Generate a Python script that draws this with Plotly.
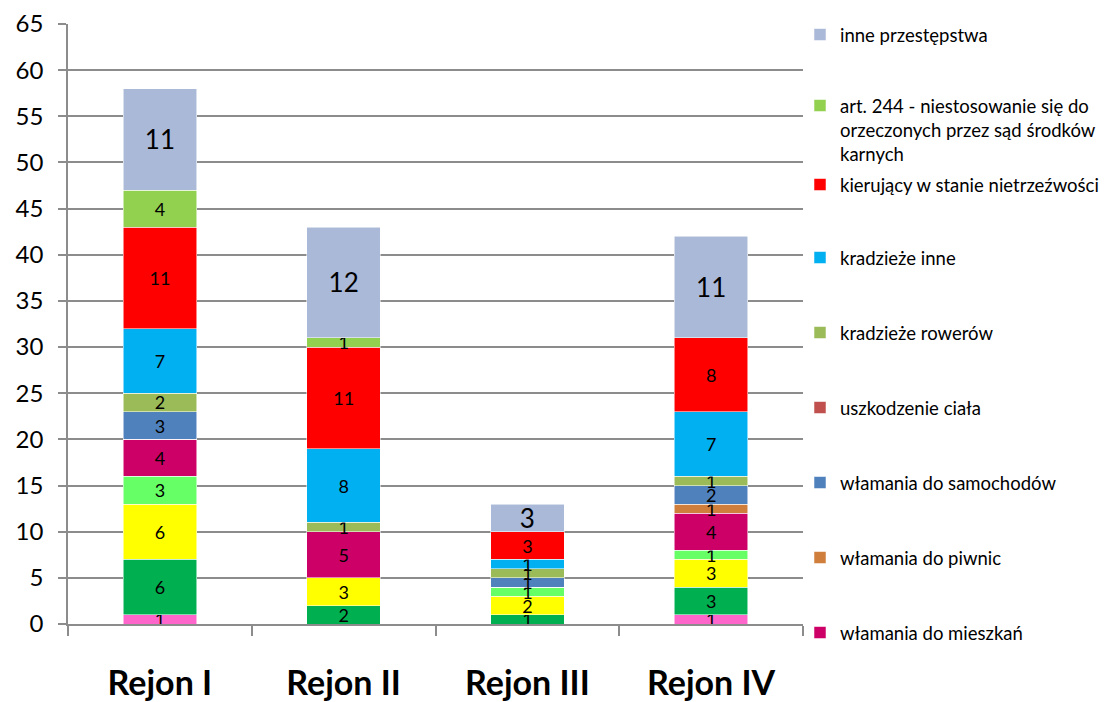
import plotly.graph_objects as go

categories = ["Rejon I", "Rejon II", "Rejon III", "Rejon IV"]

# series from the bottom of the stack to the top
seria_a = [1, 0, 0, 1]            # pink (not visible in legend)
seria_b = [6, 2, 1, 3]            # dark green (not visible in legend)
seria_c = [6, 3, 2, 3]            # yellow (not visible in legend)
seria_d = [3, 0, 1, 1]            # light green (not visible in legend)
wlamania_mieszkan = [4, 5, 0, 4]
wlamania_piwnic = [0, 0, 0, 1]
wlamania_samochodow = [3, 0, 1, 2]
uszkodzenie_ciala = [0, 0, 0, 0]
kradzieze_rowerow = [2, 1, 1, 1]
kradzieze_inne = [7, 8, 1, 7]
kierujacy = [11, 11, 3, 8]
art244 = [4, 1, 0, 0]
inne = [11, 12, 3, 11]

y_ticks = list(range(0, 70, 5))

series = [
    ("seria 13", seria_a, "#FF66CC", None, 18),
    ("seria 12", seria_b, "#00B050", None, 18),
    ("seria 11", seria_c, "#FFFF00", None, 18),
    ("seria 10", seria_d, "#66FF66", None, 18),
    ("włamania do mieszkań", wlamania_mieszkan, "#CC0066", ("legend9", 633), 18),
    ("włamania do piwnic", wlamania_piwnic, "#D07E3C", ("legend8", 558), 18),
    ("włamania do samochodów", wlamania_samochodow, "#4F81BD", ("legend7", 483), 18),
    ("uszkodzenie ciała", uszkodzenie_ciala, "#C0504D", ("legend6", 408), 18),
    ("kradzieże rowerów", kradzieze_rowerow, "#9BBB59", ("legend5", 333), 18),
    ("kradzieże inne", kradzieze_inne, "#00B0F0", ("legend4", 258), 18),
    ("kierujący w stanie nietrzeźwości", kierujacy, "#FF0000", ("legend3", 185), 18),
    ("art. 244 - niestosowanie się do<br>orzeczonych przez sąd środków<br>karnych",
     art244, "#92D050", ("legend2", 107), 18),
    ("inne przestępstwa", inne, "#AAB9D8", ("legend", 35), 26),
]

FONT = "Lato"
PAGE_OFF = 8                     # browser body margin
W, H = 1105, 694
L, R, T, B = 60, 310, 16, 78
plot_h = H - T - B
plot_w = W - L - R

fig = go.Figure()
layout_legends = {}
for name, vals, color, leg, fsize in series:
    kw = {}
    if leg is None:
        kw["showlegend"] = False
    else:
        kw["legend"] = leg[0]
        multi = "<br>" in name
        ypx = leg[1] - PAGE_OFF
        if multi:
            ypaper = (H - B - (ypx - 20)) / plot_h
            yanchor = "top"
        else:
            ypaper = (H - B - ypx) / plot_h
            yanchor = "middle"
        layout_legends[leg[0]] = dict(
            x=(800 - PAGE_OFF - L) / plot_w, xanchor="left",
            y=ypaper, yanchor=yanchor,
            bgcolor="rgba(0,0,0,0)",
            font=dict(family=FONT, size=18.5, color="#000000"),
            valign="top",
            itemwidth=30,
        )
    fig.add_trace(go.Bar(
        name=name,
        x=categories,
        y=vals,
        marker=dict(color=color, line=dict(color="rgba(255,255,255,0.7)", width=0.75)),
        text=[str(v) if v else "" for v in vals],
        textposition="inside",
        insidetextanchor="middle",
        textangle=0,
        constraintext="none",
        textfont=dict(family=FONT, size=fsize, color="#000000"),
        cliponaxis=False,
        hovertemplate="%{x}: %{y}<extra></extra>",
        **kw,
    ))

fig.update_layout(
    barmode="stack",
    bargap=0.6,
    width=W, height=H,
    margin=dict(l=L, r=R, t=T, b=B, autoexpand=False),
    paper_bgcolor="white",
    plot_bgcolor="white",
    font=dict(family=FONT, color="#000000"),
    **layout_legends,
)

fig.update_xaxes(
    type="category",
    showline=True, linecolor="#8C8C8C", linewidth=1.5,
    ticks="outside", tickson="boundaries", ticklen=10, tickwidth=1.5, tickcolor="#8C8C8C",
    tickfont=dict(family=FONT, size=34, color="#000000", weight="bold"),
    ticklabelstandoff=28,
    showgrid=False,
)
fig.update_yaxes(
    range=[0, 65],
    tickvals=y_ticks,
    showline=True, linecolor="#8C8C8C", linewidth=1.5,
    ticks="outside", ticklen=8, tickwidth=1.5, tickcolor="#8C8C8C",
    showgrid=True, gridcolor="#8C8C8C", gridwidth=1.5,
    zeroline=False,
    tickfont=dict(family=FONT, size=24, color="#000000"),
    ticklabelstandoff=10,
)

fig.write_html("out.html")
